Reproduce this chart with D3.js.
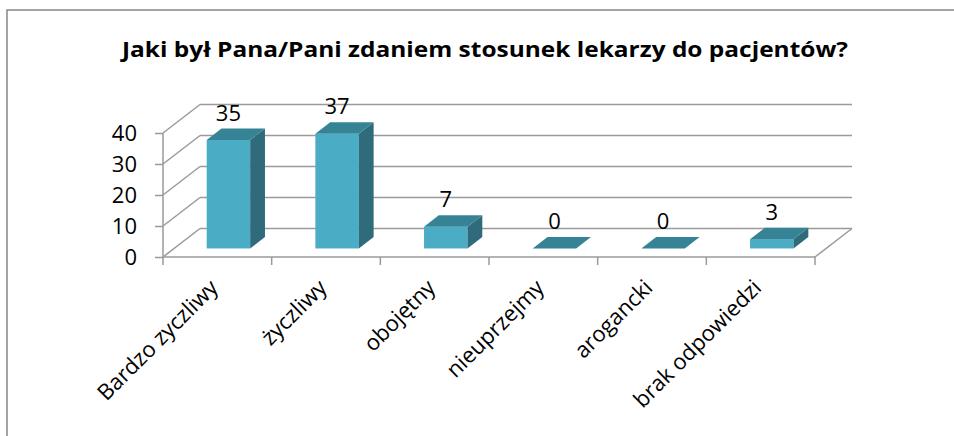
<!DOCTYPE html>
<html>
<head>
<meta charset="utf-8">
<script src="https://cdn.jsdelivr.net/npm/d3@7"></script>
<style>
  body { margin: 0; background: #fff; }
  svg { display: block; }
</style>
</head>
<body>
<svg id="chart" width="954" height="436"></svg>
<script>
const categories = ["Bardzo zyczliwy", "życzliwy", "obojętny", "nieuprzejmy", "arogancki", "brak odpowiedzi"];
const values = [35, 37, 7, 0, 0, 3];
const yTicks = [0, 10, 20, 30, 40];
const title = "Jaki był Pana/Pani zdaniem stosunek lekarzy do pacjentów?";

const font = "'Open Sans', 'DejaVu Sans', sans-serif";
const gridColor = "#9a9a9a";

const svg = d3.select("#chart");

// outer frame
svg.append("rect")
    .attr("x", 7).attr("y", 10)
    .attr("width", 960).attr("height", 440)
    .attr("fill", "#fff")
    .attr("stroke", "#878787")
    .attr("stroke-width", 1.5);

svg.append("text")
    .attr("x", 485).attr("y", 57)
    .attr("text-anchor", "middle")
    .attr("font-family", font)
    .attr("font-weight", "bold")
    .attr("font-size", 21)
    .attr("textLength", 726)
    .attr("lengthAdjust", "spacingAndGlyphs")
    .text(title);

const x = d3.scaleBand().domain(categories).range([163, 815]);
const y = d3.scaleLinear().domain([0, 40]).range([257, 133]);

// 3d depth of the plot box, and where the bars sit inside it
const D = { x: 37, y: -28.5 };
const f0 = 0.3, f1 = 0.7;
const dd = { x: (f1 - f0) * D.x, y: (f1 - f0) * D.y };

const [x0, x1] = x.range();
const grid = svg.append("g")
    .attr("stroke", gridColor)
    .attr("stroke-width", 1.5)
    .attr("fill", "none");

// back wall lines (incl. floor back edge)
grid.selectAll("line.back")
    .data(yTicks)
    .join("line")
    .attr("class", "back")
    .attr("x1", x0 + D.x).attr("x2", x1 + D.x)
    .attr("y1", d => y(d) + D.y).attr("y2", d => y(d) + D.y);

// left wall diagonals
grid.selectAll("line.side")
    .data(yTicks)
    .join("line")
    .attr("class", "side")
    .attr("x1", x0).attr("x2", x0 + D.x)
    .attr("y1", d => y(d)).attr("y2", d => y(d) + D.y);

// floor right edge
grid.append("line")
    .attr("x1", x1).attr("y1", y(0))
    .attr("x2", x1 + D.x).attr("y2", y(0) + D.y);

// bars
const bw = x.bandwidth() * 0.4;
const bars = svg.append("g")
    .selectAll("g")
    .data(categories.map((c, i) => ({ c, v: values[i] })))
    .join("g");

const bx = d => x(d.c) + (x.bandwidth() - bw) / 2 + f0 * D.x;
const yt = d => y(d.v) + f0 * D.y;
const yb = () => y(0) + f0 * D.y;

bars.append("rect")
    .attr("x", bx)
    .attr("y", yt)
    .attr("width", bw)
    .attr("height", d => yb() - yt(d))
    .attr("fill", "#4bacc6");

bars.append("path")
    .attr("fill", "#2f6b7a")
    .attr("d", d => {
        const l = bx(d) + bw;
        return `M${l},${yt(d)}L${l + dd.x},${yt(d) + dd.y}L${l + dd.x},${yb() + dd.y}L${l},${yb()}Z`;
    });

bars.append("path")
    .attr("fill", "#378396")
    .attr("d", d => {
        const l = bx(d), t = yt(d);
        return `M${l},${t}L${l + bw},${t}L${l + bw + dd.x},${t + dd.y}L${l + dd.x},${t + dd.y}Z`;
    });

bars.append("text")
    .attr("x", d => bx(d) + bw / 2)
    .attr("y", d => yt(d) + dd.y - 8)
    .attr("text-anchor", "middle")
    .attr("font-family", font)
    .attr("font-size", 22)
    .attr("fill", "#000")
    .text(d => d.v);

// value axis
const yAxis = svg.append("g")
    .attr("transform", `translate(${x0},0)`)
    .call(d3.axisLeft(y).tickValues(yTicks).tickSize(8).tickPadding(18));
yAxis.select(".domain").remove();
yAxis.selectAll("line").attr("stroke", gridColor).attr("stroke-width", 1.5);
yAxis.selectAll("text")
    .attr("font-family", font)
    .attr("font-size", 22)
    .attr("fill", "#000");
yAxis.append("line")
    .attr("y1", y(0)).attr("y2", y(40))
    .attr("stroke", gridColor).attr("stroke-width", 1.5);

// category axis
const xAxis = svg.append("g");
xAxis.append("line")
    .attr("x1", x0).attr("x2", x1)
    .attr("y1", y(0)).attr("y2", y(0))
    .attr("stroke", gridColor).attr("stroke-width", 1.5);
xAxis.selectAll("line.tick")
    .data([...categories.map(c => x(c)), x1])
    .join("line")
    .attr("class", "tick")
    .attr("x1", d => d).attr("x2", d => d)
    .attr("y1", y(0)).attr("y2", y(0) + 8)
    .attr("stroke", gridColor).attr("stroke-width", 1.5);
xAxis.selectAll("text")
    .data(categories)
    .join("text")
    .attr("transform", d => `translate(${x(d) + x.bandwidth() / 2 + 2},${y(0) + 32}) rotate(-45)`)
    .attr("text-anchor", "end")
    .attr("font-family", font)
    .attr("font-size", 22)
    .attr("fill", "#000")
    .text(d => d);
</script>
</body>
</html>
